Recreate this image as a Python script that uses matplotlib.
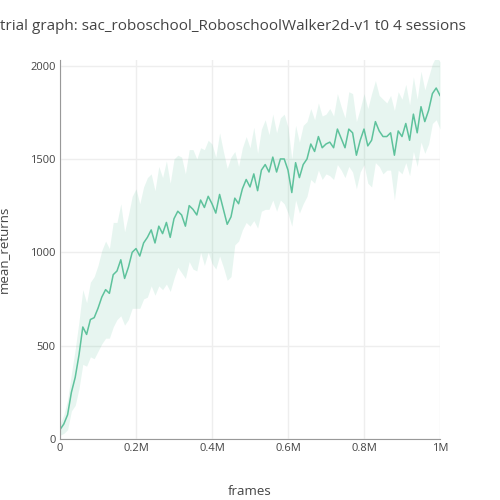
import matplotlib
matplotlib.use("Agg")
import matplotlib.pyplot as plt
import numpy as np

plt.rcParams['font.family'] = ['Open Sans', 'DejaVu Sans']

frames_k = list(range(0, 1001, 10))
mean_returns = [50, 80, 130, 250, 330, 450, 600, 560, 640, 650, 700, 760, 800, 780, 880, 900, 960, 860, 920, 1000,
                1020, 980, 1050, 1080, 1120, 1050, 1140, 1100, 1160, 1080, 1180, 1220, 1200, 1140, 1250, 1230, 1200, 1280, 1240, 1300,
                1260, 1210, 1310, 1230, 1150, 1190, 1290, 1260, 1340, 1390, 1350, 1420, 1330, 1440, 1470, 1430, 1510, 1430, 1500, 1500,
                1440, 1320, 1480, 1400, 1470, 1500, 1580, 1540, 1620, 1560, 1580, 1590, 1560, 1660, 1610, 1560, 1660, 1640, 1520, 1600,
                1660, 1570, 1600, 1700, 1650, 1620, 1620, 1640, 1520, 1650, 1620, 1690, 1600, 1740, 1640, 1780, 1700, 1760, 1850, 1880, 1840]
spread = [30, 50, 80, 100, 150, 180, 200, 170, 200, 220, 230, 250, 260, 240, 280, 260, 300, 250, 280, 300,
          320, 280, 300, 320, 300, 280, 320, 300, 330, 290, 320, 300, 310, 280, 300, 320, 300, 280, 310, 300,
          320, 300, 330, 310, 300, 320, 250, 200, 220, 230, 210, 250, 200, 220, 240, 200, 230, 210, 220, 240,
          230, 180, 200, 190, 210, 200, 190, 170, 180, 170, 160, 180, 170, 190, 170, 160, 200, 210, 180, 170,
          190, 200, 250, 220, 190, 200, 180, 200, 240, 210, 200, 210, 190, 200, 180, 190, 170, 180, 160, 170, 180]

x = np.array(frames_k) * 1000
m = np.array(mean_returns, float)
s = np.array(spread, float)

fig = plt.figure(figsize=(5, 5), dpi=100)
ax = fig.add_axes([0.12, 0.122, 0.76, 0.758])
col = "#5ec29c"
ax.fill_between(x, m - s, m + s, color=col, alpha=0.15, linewidth=0)
ax.plot(x, m, color=col, linewidth=1.1)
ax.set_xlim(0, 1e6)
ax.set_ylim(0, 2030)
ax.set_xticks([0, 2e5, 4e5, 6e5, 8e5, 1e6])
ax.set_xticklabels(["0", "0.2M", "0.4M", "0.6M", "0.8M", "1M"])
ax.set_yticks([0, 500, 1000, 1500, 2000])
ax.grid(color="#eeeeee", linewidth=1)
ax.set_axisbelow(True)
for sp in ["top", "right"]:
    ax.spines[sp].set_visible(False)
for sp in ["left", "bottom"]:
    ax.spines[sp].set_color("#999999")
ax.tick_params(colors="#444444", labelsize=8, length=0, pad=3)
ax.set_xlabel("frames", color="#444444", fontsize=9.5, labelpad=22)
ax.set_ylabel("mean_returns", color="#444444", fontsize=9.5, labelpad=14)
fig.text(0.0, 0.948, "trial graph: sac_roboschool_RoboschoolWalker2d-v1 t0 4 sessions",
         color="#444444", fontsize=11, ha="left", va="center")
fig.savefig("out.png")
